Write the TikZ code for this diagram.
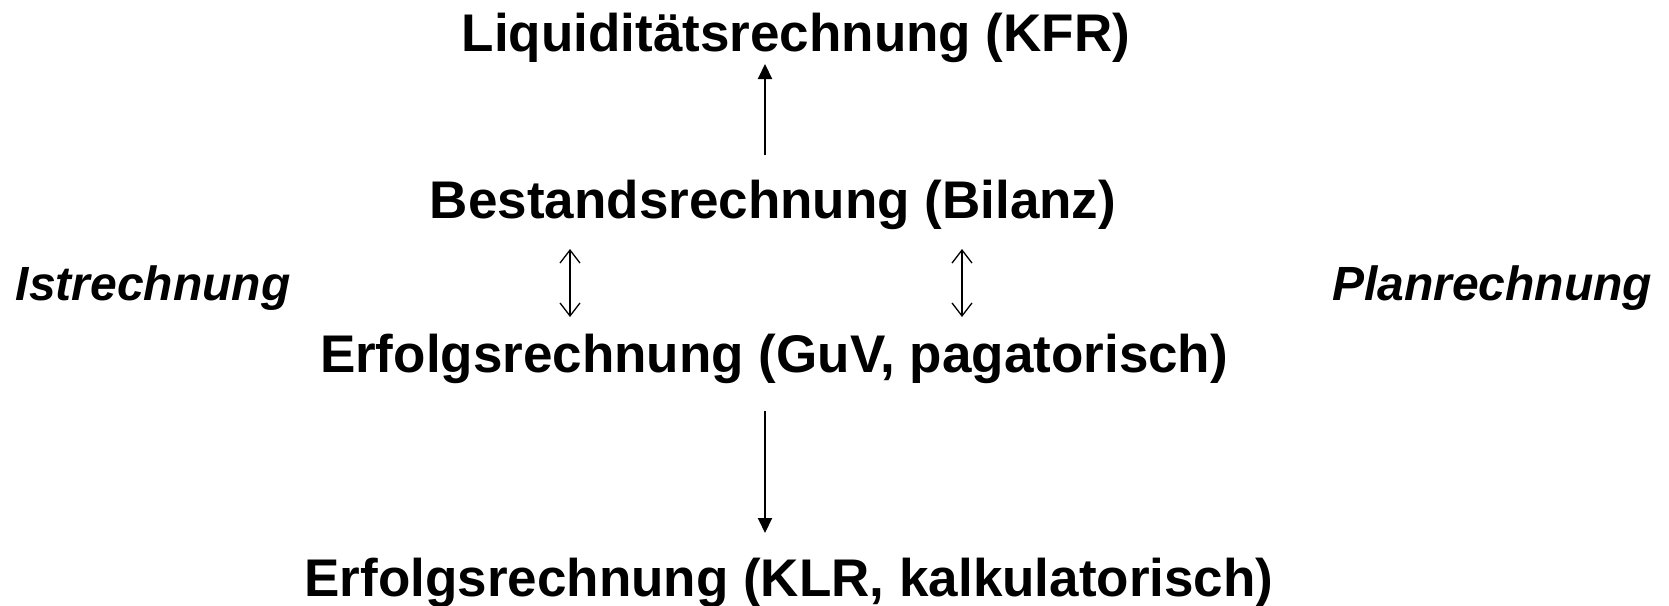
\documentclass[tikz,border=0pt]{standalone}
\usepackage{fontspec}
\setmainfont{Liberation Sans}
\usetikzlibrary{arrows.meta}
\begin{document}
\begin{tikzpicture}[x=1pt,y=-1pt,
  main/.style={font=\fontsize{53}{60}\selectfont\bfseries, anchor=base, inner sep=0pt},
  side/.style={font=\fontsize{48}{56}\selectfont\bfseries\itshape, anchor=base, inner sep=0pt},
  flow/.style={line width=2pt, -{Triangle[length=15pt,width=14pt]}},
  link/.style={line width=1.3pt, {Straight Barb[length=13pt,width=20pt,line width=1.3pt]}-{Straight Barb[length=13pt,width=20pt,line width=1.3pt]}}]
\useasboundingbox (0,0) rectangle (1669,605);
\node[main] (kfr) at (796,51) {Liquiditätsrechnung (KFR)};
\node[main] (bil) at (773,218) {Bestandsrechnung (Bilanz)};
\node[main] (guv) at (774,372) {Erfolgsrechnung (GuV, pagatorisch)};
\node[main] (klr) at (789,596) {Erfolgsrechnung (KLR, kalkulatorisch)};
\node[side] (ist) at (153,300) {Istrechnung};
\node[side] (plan) at (1492,300) {Planrechnung};
\coordinate (a1s) at (765,155);
\coordinate (a1e) at (765,64);
\coordinate (l1t) at (570,249);
\coordinate (l1b) at (570,317);
\coordinate (l2t) at (962,249);
\coordinate (l2b) at (962,317);
\coordinate (a2s) at (765,411);
\coordinate (a2e) at (765,533);
\draw[flow] (a1s) -- (a1e);
\draw[link] (l1t) -- (l1b);
\draw[link] (l2t) -- (l2b);
\draw[flow] (a2s) -- (a2e);
\end{tikzpicture}
\end{document}
